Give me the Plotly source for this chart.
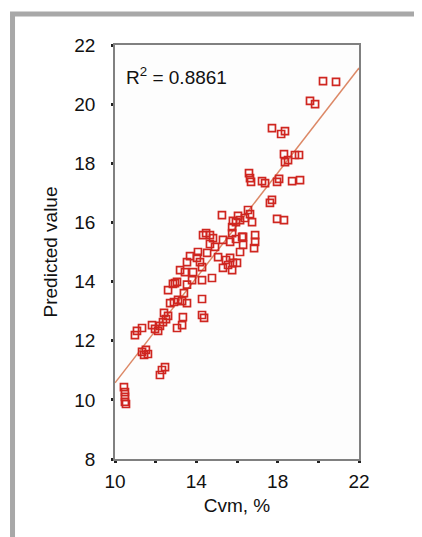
import plotly.graph_objects as go

cvm = [10.44, 10.49, 10.49, 10.49, 10.54, 12.21, 12.31, 12.46, 11.33, 11.52,
       11.62, 11.43, 10.98, 11.08, 11.33, 11.82, 11.97, 12.12, 12.21, 12.36,
       12.51, 12.61, 12.41, 13.05, 13.30, 13.34, 12.71, 12.90, 13.10, 13.30,
       13.54, 12.61, 12.85, 13.05, 13.20, 13.44, 13.84, 13.79, 14.28, 14.28,
       14.28, 14.28, 14.38, 14.77, 14.08, 14.03, 14.18, 14.53, 15.07, 15.46,
       15.66, 15.80, 15.76, 15.31, 15.56, 14.33, 14.48, 14.67, 14.82, 14.92,
       15.31, 15.66, 15.76, 16.25, 15.26, 15.80, 16.05, 14.67, 13.69, 13.54,
       16.59, 16.69, 16.64, 17.23, 17.38, 17.97, 18.07, 18.71, 19.10, 17.62,
       17.72, 17.97, 18.31, 16.64, 16.39, 16.15, 15.95, 15.76, 15.95, 16.30,
       16.30, 16.15, 16.89, 16.89, 16.84, 16.54, 16.74, 17.72, 18.36, 18.17,
       18.31, 19.05, 18.85, 18.51, 18.36, 19.59, 19.84, 20.23, 20.87, 16.00,
       13.39, 12.95, 13.54]
predicted = [10.43, 10.26, 10.10, 9.93, 9.86, 10.84, 11.01, 11.11, 11.62, 11.69,
             11.55, 11.52, 12.19, 12.33, 12.43, 12.53, 12.40, 12.33, 12.50, 12.63,
             12.73, 12.84, 12.94, 12.43, 12.53, 12.80, 13.27, 13.31, 13.38, 13.34,
             13.27, 13.71, 13.92, 13.99, 14.39, 14.32, 14.32, 14.05, 14.05, 14.49,
             13.41, 12.87, 12.77, 14.12, 15.00, 14.80, 14.66, 14.97, 14.83, 14.73,
             14.80, 14.63, 14.39, 14.46, 14.56, 15.57, 15.64, 15.57, 15.47, 15.17,
             15.41, 15.34, 15.64, 15.51, 16.25, 16.05, 16.22, 15.27, 14.86, 14.66,
             17.67, 17.37, 17.50, 17.40, 17.33, 17.37, 17.47, 17.40, 17.43, 16.66,
             16.76, 16.12, 16.08, 16.28, 16.15, 16.08, 16.01, 15.84, 15.44, 15.51,
             15.24, 15.00, 15.57, 15.34, 15.13, 16.42, 16.01, 19.19, 19.09, 18.99,
             18.31, 18.28, 18.28, 18.11, 18.04, 20.11, 20.00, 20.78, 20.75, 14.63,
             13.61, 13.95, 13.90]

fit_x = [10, 22]
fit_slope = 0.8875
fit_intercept = 1.70
r2_text = "R<sup>2</sup> = 0.8861"

x_ticks = [10, 14, 18, 22]
y_ticks = [8, 10, 12, 14, 16, 18, 20, 22]

fit_y = [fit_intercept + fit_slope * v for v in fit_x]

font_family = "Liberation Sans, Arial, sans-serif"
fsize = 19

fig = go.Figure()
fig.add_trace(go.Scatter(
    x=fit_x, y=fit_y, mode="lines",
    line=dict(color="#dc8866", width=1.5),
    hoverinfo="skip", showlegend=False,
))
fig.add_trace(go.Scatter(
    x=cvm, y=predicted, mode="markers",
    marker=dict(symbol="square-open", size=7, color="#cf2620",
                line=dict(width=1.7, color="#cf2620")),
    showlegend=False,
))

axis_common = dict(
    showline=True, mirror=True, linecolor="#808080", linewidth=1.5,
    showgrid=False, zeroline=False,
    ticks="outside", ticklen=2, tickwidth=3, tickcolor="#222222",
    tickfont=dict(size=fsize, color="#111111", family=font_family),
)

fig.update_xaxes(
    range=[10, 22], tickvals=x_ticks, ticktext=[str(v) for v in x_ticks],
    minor=dict(dtick=2, tick0=10, ticks="outside", ticklen=2, tickwidth=3,
               tickcolor="#222222"),
    title=dict(text="Cvm, %", font=dict(size=fsize, color="#111111", family=font_family),
               standoff=8),
    ticklabelstandoff=2,
    **axis_common,
)
fig.update_yaxes(
    range=[8, 22], tickvals=y_ticks, ticktext=[str(v) for v in y_ticks],
    title=dict(text="Predicted value", font=dict(size=fsize, color="#111111", family=font_family),
               standoff=12),
    ticklabelstandoff=12,
    **axis_common,
)

fig.add_annotation(
    xref="paper", yref="paper", x=0.035, y=0.925, xanchor="left", yanchor="middle",
    text=r2_text, showarrow=False,
    font=dict(size=fsize, color="#111111", family=font_family),
)

# outer grey frame
fig.add_shape(type="rect", xref="paper", yref="paper",
              x0=-0.42, x1=1.25, y0=-0.25, y1=1.075,
              line=dict(color="#a8a8a8", width=5), layer="below")

fig.update_layout(
    width=422, height=537,
    margin=dict(l=107, r=71, t=37, b=86),
    paper_bgcolor="white", plot_bgcolor="#fdfdfd",
    font=dict(family=font_family, color="#111111"),
)

fig.write_html("out.html")
